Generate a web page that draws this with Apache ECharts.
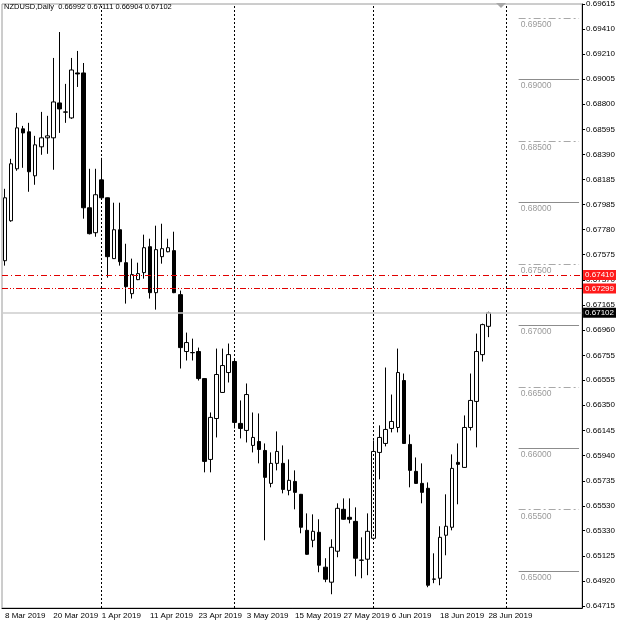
<!DOCTYPE html>
<html>
<head>
<meta charset="utf-8">
<title>NZDUSD,Daily</title>
<script src="https://cdn.jsdelivr.net/npm/echarts@6/dist/echarts.min.js"></script>
<style>
  html, body { margin: 0; padding: 0; background: #fff; }
  #chart { width: 618px; height: 625px; }
</style>
</head>
<body>
<div id="chart"></div>
<script>
// trading days shown (daily bars), then empty "chart shift" slots
const marDays = [8, 11, 12, 13, 14, 15, 18, 19, 20, 21, 22, 25, 26, 27, 28, 29];
const aprDays = [1, 2, 3, 4, 5, 8, 9, 10, 11, 12, 15, 16, 17, 18, 19, 22, 23, 24, 25, 26, 29, 30];
const mayDays = [1, 2, 3, 6, 7, 8, 9, 10, 13, 14, 15, 16, 17, 20, 21, 22, 23, 24, 27, 28, 29, 30, 31];
const junDays = [3, 4, 5, 6, 7, 10, 11, 12, 13, 14, 17, 18, 19, 20, 21, 24, 25, 26, 27, 28];
const julDays = [1, 2, 3, 4, 5, 8, 9, 10, 11, 12, 15, 16, 17, 18, 19];

const opens = [
  0.67526, 0.67851, 0.68274, 0.68599, 0.68575, 0.68217, 0.68453, 0.68526, 0.68526, 0.68810,
  0.68737, 0.68688, 0.69054, 0.69054, 0.67957, 0.67754, 0.68184, 0.68038, 0.67543, 0.67778,
  0.67510, 0.67258, 0.67372, 0.67429, 0.67640, 0.67266, 0.67559, 0.67599, 0.67608, 0.67250,
  0.66787, 0.66779, 0.66787, 0.66567, 0.65909, 0.66242, 0.66454, 0.66616, 0.66706, 0.66202,
  0.66145, 0.66023, 0.66055, 0.65982, 0.65714, 0.65877, 0.65877, 0.65657, 0.65730, 0.65625,
  0.65332, 0.65251, 0.65316, 0.65032, 0.64910, 0.65162, 0.65503, 0.65438, 0.65405, 0.65088,
  0.65097, 0.65267, 0.65966, 0.66039, 0.66161, 0.66169, 0.66551, 0.66031, 0.65812, 0.65714,
  0.65674, 0.64934, 0.64942, 0.65292, 0.65357, 0.65885, 0.65844, 0.66169, 0.66381, 0.66762,
  0.66992
];
const closes = [
  0.68038, 0.68315, 0.68607, 0.68566, 0.68250, 0.68469, 0.68526, 0.68542, 0.68818, 0.68761,
  0.68735, 0.69078, 0.69046, 0.67957, 0.67746, 0.68063, 0.68038, 0.67559, 0.67778, 0.67518,
  0.67315, 0.67413, 0.67421, 0.67632, 0.67266, 0.67616, 0.67624, 0.67632, 0.67266, 0.66819,
  0.66860, 0.66777, 0.66567, 0.65893, 0.66251, 0.66600, 0.66673, 0.66762, 0.66210, 0.66161,
  0.66437, 0.66088, 0.65990, 0.65763, 0.65877, 0.65974, 0.65665, 0.65739, 0.65641, 0.65357,
  0.65137, 0.65324, 0.65048, 0.64934, 0.65194, 0.65511, 0.65422, 0.65422, 0.65105, 0.65090,
  0.65324, 0.65974, 0.66088, 0.66153, 0.66218, 0.66616, 0.66039, 0.65820, 0.65714, 0.65641,
  0.64885, 0.64936, 0.65275, 0.65365, 0.65836, 0.65869, 0.66169, 0.66389, 0.66787, 0.67006,
  0.67102
];
const highs = [
  0.68111, 0.68355, 0.68729, 0.68623, 0.68648, 0.68542, 0.68737, 0.68705, 0.69176, 0.69387,
  0.68965, 0.69176, 0.69233, 0.69135, 0.68274, 0.68274, 0.68363, 0.68040, 0.67998, 0.67998,
  0.67664, 0.67543, 0.67510, 0.67738, 0.67705, 0.67811, 0.67827, 0.67705, 0.67762, 0.67283,
  0.66941, 0.66892, 0.66819, 0.66570, 0.66291, 0.66811, 0.66811, 0.66852, 0.66730, 0.66389,
  0.66527, 0.66291, 0.66283, 0.66039, 0.65966, 0.66137, 0.66023, 0.65909, 0.65820, 0.65628,
  0.65470, 0.65462, 0.65422, 0.65105, 0.65259, 0.65552, 0.65592, 0.65592, 0.65519, 0.65275,
  0.65470, 0.66064, 0.66186, 0.66657, 0.66437, 0.66811, 0.66608, 0.66112, 0.65925, 0.65877,
  0.65722, 0.65145, 0.65365, 0.65625, 0.65950, 0.66039, 0.66267, 0.66608, 0.66933, 0.67014,
  0.67111
];
const lows = [
  0.67486, 0.67843, 0.68258, 0.68282, 0.68087, 0.68144, 0.68388, 0.68396, 0.68266, 0.68566,
  0.68648, 0.68680, 0.68940, 0.67868, 0.67740, 0.67721, 0.68030, 0.67388, 0.67540, 0.67486,
  0.67177, 0.67218, 0.67368, 0.67380, 0.67218, 0.67128, 0.67502, 0.67595, 0.67262, 0.66649,
  0.66714, 0.66714, 0.66551, 0.65804, 0.65804, 0.66088, 0.66450, 0.66535, 0.66161, 0.66080,
  0.66047, 0.65966, 0.65877, 0.65251, 0.65682, 0.65820, 0.65633, 0.65617, 0.65503, 0.65308,
  0.65133, 0.65194, 0.64991, 0.64910, 0.64812, 0.65113, 0.65418, 0.65389, 0.64958, 0.64942,
  0.64967, 0.65263, 0.65747, 0.66015, 0.66129, 0.66129, 0.66035, 0.65682, 0.65710, 0.65552,
  0.64869, 0.64902, 0.64885, 0.65129, 0.65332, 0.65544, 0.65840, 0.66145, 0.66007, 0.66706,
  0.66904
];

// right price scale labels
const yTicks = [
  0.69615, 0.69410, 0.69210, 0.69005, 0.68800, 0.68595, 0.68390, 0.68185, 0.67985,
  0.67780, 0.67575, 0.67370, 0.67165, 0.66960, 0.66755, 0.66555, 0.66350, 0.66145,
  0.65940, 0.65735, 0.65530, 0.65330, 0.65125, 0.64920, 0.64715
];
// horizontal price levels drawn at the right side
const levels = [0.695, 0.690, 0.685, 0.680, 0.675, 0.670, 0.665, 0.660, 0.655, 0.650];
// month separators (bar index of first day of month)
const separators = [16, 38, 61, 83];
const resistLine = 0.67410;
const supportLine = 0.67299;
const bidPrice = 0.67102;

const months = [['Mar', marDays], ['Apr', aprDays], ['May', mayDays], ['Jun', junDays], ['Jul', julDays]];
const categories = [];
months.forEach(([m, days]) => days.forEach(d => categories.push(d + ' ' + m + ' 2019')));
const nBars = opens.length;
const candles = opens.map((o, i) => [o, closes[i], lows[i], highs[i]]);

const FONT = '"Liberation Sans", Arial, sans-serif';

const priceTag = (v, bg) => ({
  show: true, position: 'end', distance: 1, formatter: v.toFixed(5),
  backgroundColor: bg, color: '#fff', fontSize: 8, fontFamily: FONT, padding: [1, 2, 1, 2]
});

const markData = [];
separators.forEach(i => {
  markData.push({
    xAxis: i,
    lineStyle: { color: '#000', width: 1, type: [2, 2] },
    label: { show: false }
  });
});
levels.forEach((v, k) => {
  const solid = k % 2 === 1;
  markData.push([
    {
      coord: [85, v],
      lineStyle: { color: solid ? '#8c8c8c' : '#a8a8a8', width: 1, type: solid ? 'solid' : [7, 3, 2, 3] },
      label: {
        show: true, position: 'insideStartBottom', distance: 2,
        formatter: v.toFixed(5), color: '#999999', fontSize: 8.5, fontFamily: FONT
      }
    },
    { coord: [95, v] }
  ]);
});
markData.push({
  yAxis: bidPrice,
  lineStyle: { color: '#cccccc', width: 1.5, type: 'solid' },
  label: priceTag(bidPrice, '#000')
});
markData.push({
  yAxis: resistLine,
  lineStyle: { color: '#e00000', width: 1, type: [6, 3, 1, 3] },
  label: priceTag(resistLine, '#ff1a1a')
});
markData.push({
  yAxis: supportLine,
  lineStyle: { color: '#e00000', width: 1, type: [6, 2, 1, 2, 1, 2] },
  label: priceTag(supportLine, '#ff1a1a')
});

const myChart = echarts.init(document.getElementById('chart'));
const option = {
  animation: false,
  backgroundColor: '#fff',
  title: {
    text: 'NZDUSD,Daily  0.66992 0.67111 0.66904 0.67102',
    left: 4,
    top: 3,
    padding: 0,
    textStyle: { fontSize: 7.5, fontWeight: 'normal', color: '#000', fontFamily: FONT }
  },
  grid: {
    left: 2, right: 35, top: 3, bottom: 17,
    show: true, borderColor: '#9a9a9a', borderWidth: 1, backgroundColor: '#fff'
  },
  graphic: [{
    type: 'polygon',
    shape: { points: [[496, 3], [506, 3], [501, 8]] },
    style: { fill: '#a8a8a8' }
  }],
  xAxis: {
    type: 'category',
    data: categories,
    boundaryGap: true,
    axisLine: { show: true, lineStyle: { color: '#000' } },
    axisTick: { show: false },
    splitLine: { show: false },
    axisLabel: {
      interval: 7,
      align: 'left',
      margin: 4,
      fontSize: 8,
      color: '#000',
      fontFamily: FONT,
      formatter: (v, i) => (i < nBars ? v : '')
    }
  },
  yAxis: {
    type: 'value',
    position: 'right',
    min: 0.64700,
    max: 0.69615,
    axisLine: { show: true, lineStyle: { color: '#000' } },
    axisTick: { show: true, length: 3, customValues: yTicks, lineStyle: { color: '#000' } },
    splitLine: { show: false },
    axisLabel: {
      customValues: yTicks,
      formatter: v => v.toFixed(5),
      margin: 4,
      fontSize: 8,
      color: '#000',
      fontFamily: FONT
    }
  },
  series: [
    {
      // helper series that only carries the separators, levels and price lines
      type: 'line',
      data: [],
      silent: true,
      z: 1,
      markLine: {
        silent: true,
        animation: false,
        precision: 5,
        symbol: ['none', 'none'],
        data: markData
      }
    },
    {
      type: 'candlestick',
      data: candles,
      barWidth: 4,
      z: 3,
      itemStyle: {
        color: '#ffffff',
        color0: '#000000',
        borderColor: '#000000',
        borderColor0: '#000000',
        borderColorDoji: '#000000',
        borderWidth: 1
      }
    }
  ]
};
myChart.setOption(option);
</script>
</body>
</html>
